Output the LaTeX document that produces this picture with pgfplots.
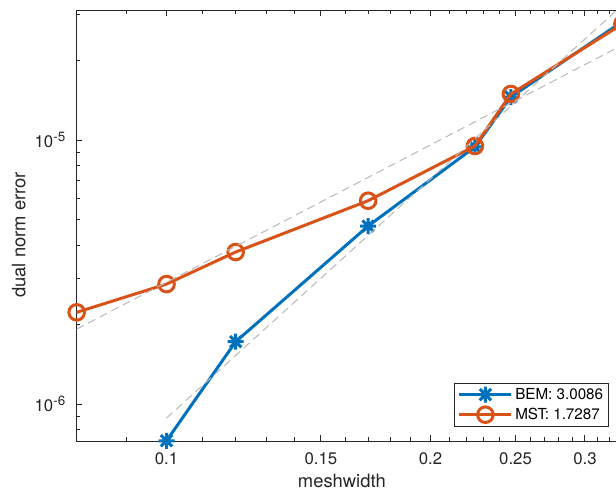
\documentclass[border=0pt]{standalone}
\usepackage{fontspec}
\setmainfont{TeX Gyre Heros}
\usepackage{pgfplots}
\pgfplotsset{compat=1.18}
\definecolor{bemc}{HTML}{0072BD}
\definecolor{mstc}{HTML}{D95319}
\definecolor{axc}{HTML}{262626}
\definecolor{fitc}{gray}{0.72}

% MATLAB-like '*' marker: plus and cross together
\pgfdeclareplotmark{mstar}{%
  \pgfpathmoveto{\pgfqpoint{-\pgfplotmarksize}{0pt}}%
  \pgfpathlineto{\pgfqpoint{\pgfplotmarksize}{0pt}}%
  \pgfpathmoveto{\pgfqpoint{0pt}{-\pgfplotmarksize}}%
  \pgfpathlineto{\pgfqpoint{0pt}{\pgfplotmarksize}}%
  \pgfpathmoveto{\pgfqpoint{-0.7071\pgfplotmarksize}{-0.7071\pgfplotmarksize}}%
  \pgfpathlineto{\pgfqpoint{0.7071\pgfplotmarksize}{0.7071\pgfplotmarksize}}%
  \pgfpathmoveto{\pgfqpoint{-0.7071\pgfplotmarksize}{0.7071\pgfplotmarksize}}%
  \pgfpathlineto{\pgfqpoint{0.7071\pgfplotmarksize}{-0.7071\pgfplotmarksize}}%
  \pgfusepathqstroke}

\newcommand{\ex}[1]{10\raisebox{2.8pt}{\fontsize{6.7}{7}\selectfont #1}}

\begin{document}
\begin{tikzpicture}
\begin{axis}[at={(0,0)}, anchor=south west,
  xmode=log, ymode=log, scale only axis,
  width=272.85pt, height=215.5pt,
  xmin=0.0790, xmax=0.331, ymin=7.245e-7, ymax=3.107e-5,
  xtick={0.1,0.15,0.2,0.25,0.3}, xticklabels={0.1,0.15,0.2,0.25,0.3},
  minor xtick={0.09,0.11,0.12,0.13,0.14,0.16,0.17,0.18,0.19,0.21,0.22,0.23,0.24,0.26,0.27,0.28,0.29,0.31,0.32,0.33},
  ytick={1e-6,1e-5}, yticklabels={\ex{-6},\ex{-5}},
  minor ytick={8e-7,9e-7,2e-6,3e-6,4e-6,5e-6,6e-6,7e-6,8e-6,9e-6,2e-5,3e-5},
  axis line style={axc, line width=0.5pt},
  tick style={axc, line width=0.5pt},
  major tick length=2.8pt, minor tick length=1.8pt,
  tick label style={font=\fontsize{8.4}{10}\selectfont, text=axc},
  xticklabel style={yshift=-2.5pt},
  yticklabel style={xshift=-2.2pt},
  label style={font=\fontsize{9.2}{11}\selectfont, text=axc},
  xlabel={meshwidth}, ylabel={dual norm error},
  xlabel style={at={(axis description cs:0.486,-0.0916)}, anchor=center},
  ylabel style={at={(axis description cs:-0.1063,0.478)}, anchor=center},
  clip mode=individual,
  legend cell align=left,
  legend image code/.code={\draw[mark repeat=2,mark phase=2] plot coordinates {(0pt,0pt) (13pt,0pt) (26pt,0pt)};},
  legend style={at={(0.9754,0.0332)}, anchor=south east, draw=axc, line width=0.4pt,
    fill=white, inner xsep=1.5pt, inner ysep=0.8pt, row sep=0pt,
    font=\fontsize{7.6}{9}\selectfont,
    nodes={inner sep=1.2pt, text height=6pt, text depth=1.6pt}},
]
\addplot[bemc, line width=1.5pt, mark=mstar, mark size=4pt, mark options={solid}]
  coordinates {(0.1000,7.26e-7) (0.1199,1.722e-6) (0.1698,4.723e-6) (0.2247,9.41e-6) (0.2470,1.455e-5) (0.331,2.81e-5)};
\addlegendentry{BEM: 3.0086\hspace{5pt}}
\addplot[mstc, line width=1.5pt, mark=o, mark size=3.9pt, mark options={solid}]
  coordinates {(0.0790,2.225e-6) (0.1000,2.847e-6) (0.1199,3.765e-6) (0.1698,5.889e-6) (0.2247,9.49e-6) (0.2470,1.494e-5) (0.331,2.75e-5)};
\addlegendentry{MST: 1.7287\hspace{5pt}}
% fitted rates
\addplot[fitc, line width=0.5pt, dash pattern=on 4pt off 2.5pt, forget plot]
  coordinates {(0.1000,8.85e-7) (0.331,3.243e-5)};
\addplot[fitc, line width=0.5pt, dash pattern=on 4pt off 2.5pt, forget plot]
  coordinates {(0.0790,1.923e-6) (0.331,2.288e-5)};
\end{axis}
\pgfresetboundingbox
\useasboundingbox (-38.35pt,-24.5pt) rectangle (269.65pt,220.5pt);
\end{tikzpicture}
\end{document}
